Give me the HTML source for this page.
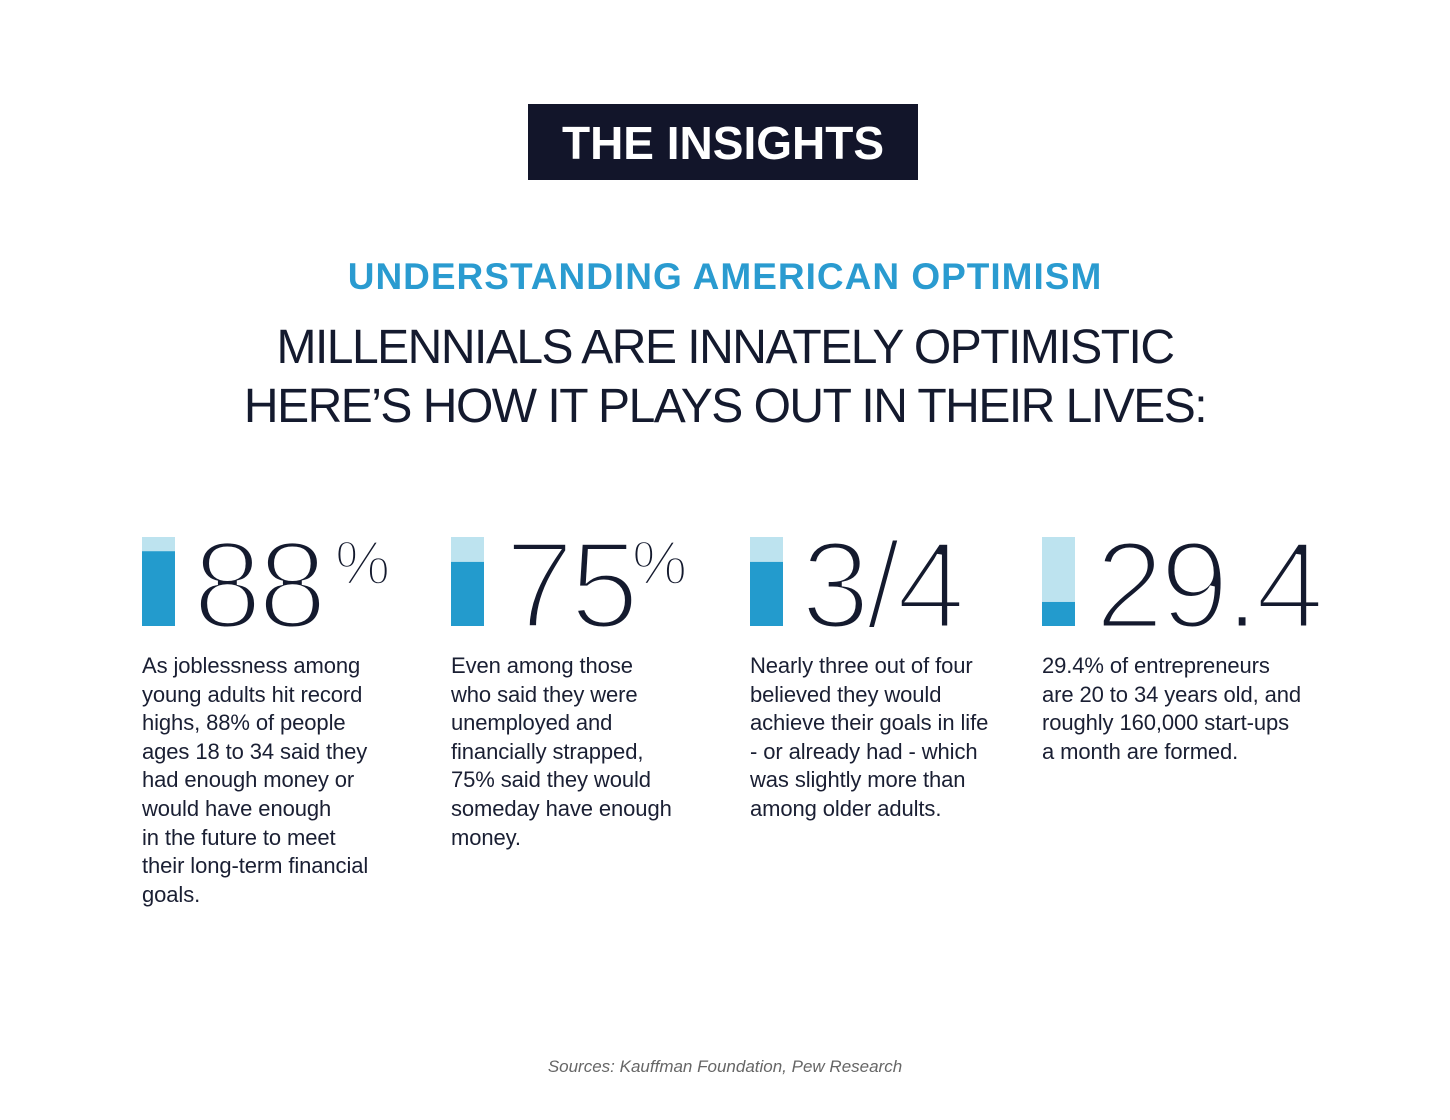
<!DOCTYPE html>
<html><head><meta charset="utf-8"><style>
html,body{margin:0;padding:0;background:#fff;}
body{width:1450px;height:1120px;position:relative;overflow:hidden;font-family:"Liberation Sans",sans-serif;color:#141a2e;}
.abs{position:absolute;}
#title{left:528px;top:104px;width:390px;height:76px;background:#12152a;color:#fff;font-weight:bold;font-size:46px;line-height:78px;text-align:center;}
#sub{left:0;width:1450px;top:256px;text-align:center;color:#2a9bd0;font-weight:bold;font-size:37px;letter-spacing:1px;}
.head{left:0;width:1450px;text-align:center;font-size:48px;letter-spacing:-1.5px;color:#141a2e;}
.desc{font-size:22px;line-height:28.6px;color:#1a1f33;top:652px;white-space:nowrap;letter-spacing:-0.1px;}
#src{left:0;width:1450px;top:1057px;text-align:center;font-size:17px;font-style:italic;color:#666;}
svg text{font-family:"Liberation Sans",sans-serif;}
</style></head><body>
<div class="abs" id="title">THE INSIGHTS</div>
<div class="abs" id="sub">UNDERSTANDING AMERICAN OPTIMISM</div>
<div class="abs head" style="top:320px">MILLENNIALS ARE INNATELY OPTIMISTIC</div>
<div class="abs head" style="top:379px">HERE’S HOW IT PLAYS OUT IN THEIR LIVES:</div>
<svg class="abs" id="stats" style="left:0;top:0" width="1450" height="1120"></svg>
<div class="abs desc" style="left:142px">As joblessness among<br>young adults hit record<br>highs, 88% of people<br>ages 18 to 34 said they<br>had enough money or<br>would have enough<br>in the future to meet<br>their long-term financial<br>goals.</div>
<div class="abs desc" style="left:451px">Even among those<br>who said they were<br>unemployed and<br>financially strapped,<br>75% said they would<br>someday have enough<br>money.</div>
<div class="abs desc" style="left:750px">Nearly three out of four<br>believed they would<br>achieve their goals in life<br>- or already had - which<br>was slightly more than<br>among older adults.</div>
<div class="abs desc" style="left:1042px">29.4% of entrepreneurs<br>are 20 to 34 years old, and<br>roughly 160,000 start-ups<br>a month are formed.</div>
<div class="abs" id="src">Sources: Kauffman Foundation, Pew Research</div>
<script>
const labels=["88","75","3/4","29.4"];
const values=[0.84,0.72,0.72,0.27];
const suffixes=["%","%","",""];
const NS="http://www.w3.org/2000/svg";
const svg=document.getElementById('stats');
const barX=[142,451,750,1042], numX=[193,505,801,1095], pctX=[335,632,0,0];
const barTop=537,barBot=626,barH=barBot-barTop;
function yScale(v){return barBot-v*barH;}
labels.forEach((lab,i)=>{
  const bg=document.createElementNS(NS,'rect');
  
  
  bg.setAttribute('x',barX[i]);bg.setAttribute('y',barTop);bg.setAttribute('width',33);bg.setAttribute('height',barH);bg.setAttribute('fill','#bde3ef');
  svg.appendChild(bg);
  const fg=document.createElementNS(NS,'rect');
  
  
  fg.setAttribute('x',barX[i]);fg.setAttribute('y',yScale(values[i]));fg.setAttribute('width',33);fg.setAttribute('height',barBot-yScale(values[i]));fg.setAttribute('fill','#239bcd');
  svg.appendChild(fg);
  const t=document.createElementNS(NS,'text');
  
  
  t.setAttribute('x',numX[i]);t.setAttribute('y',628);t.setAttribute('font-size',124);
  t.setAttribute('letter-spacing','-4');
  t.setAttribute('fill','#141a2e');t.setAttribute('stroke','#fff');t.setAttribute('stroke-width','5');
  t.textContent=lab;svg.appendChild(t);
  if(suffixes[i]){
    const p=document.createElementNS(NS,'text');
    
    
    p.setAttribute('x',pctX[i]);p.setAttribute('y',584);p.setAttribute('font-size',62);
    p.setAttribute('fill','#141a2e');p.setAttribute('stroke','#fff');p.setAttribute('stroke-width','2.5');
    p.textContent=suffixes[i];svg.appendChild(p);
  }
});
</script>
</body></html>
